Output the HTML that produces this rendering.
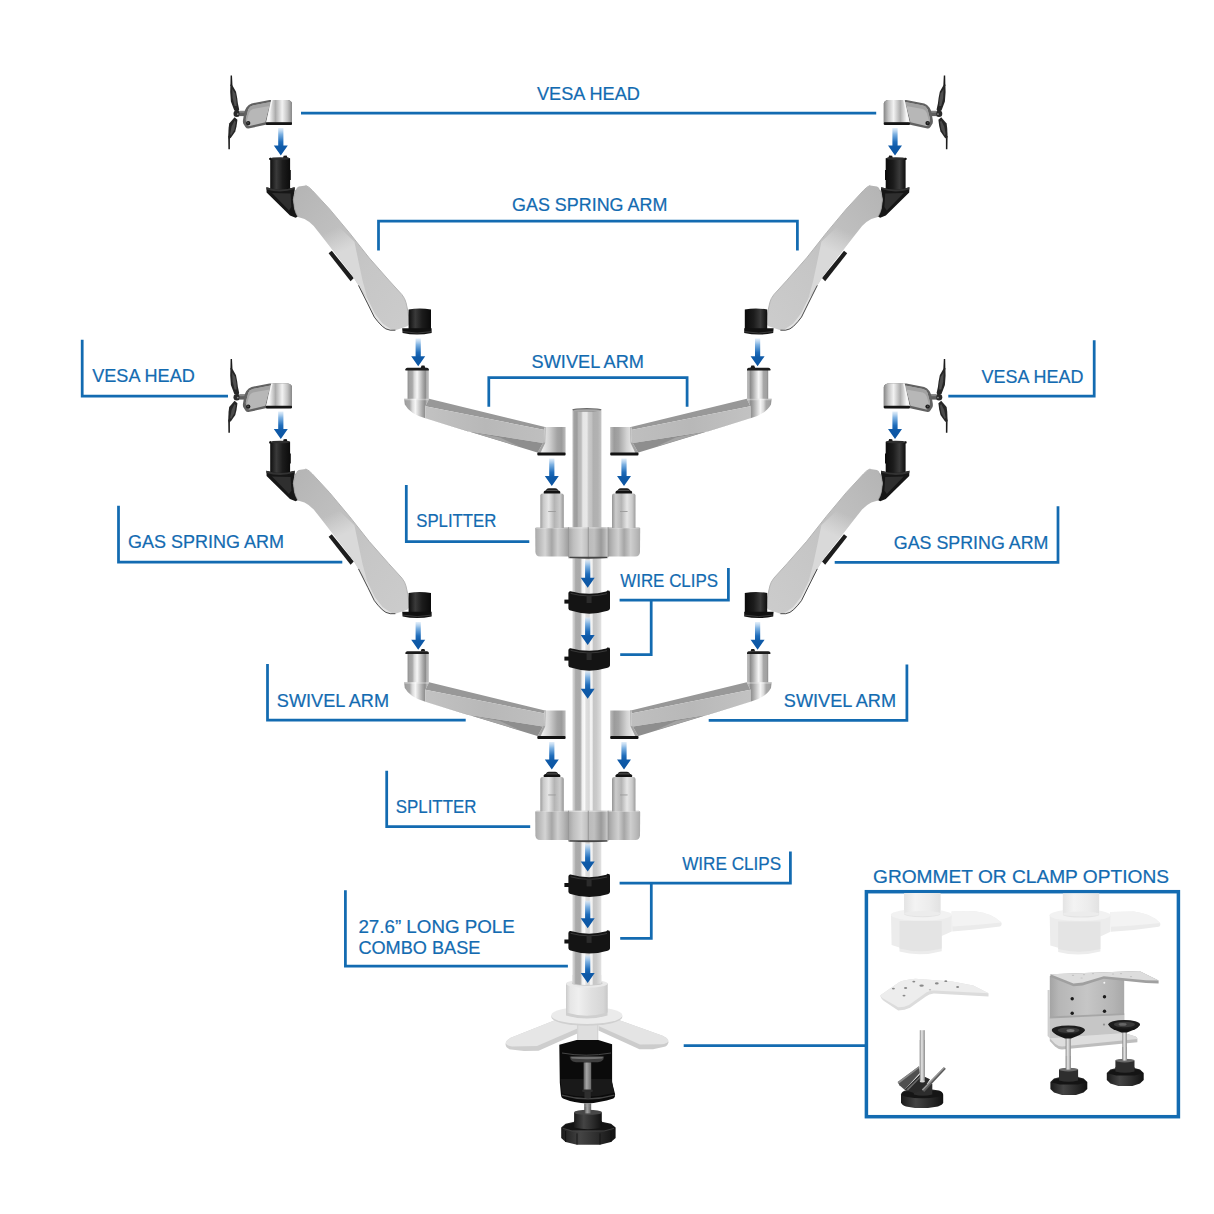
<!DOCTYPE html>
<html lang="en">
<head>
<meta charset="utf-8">
<title>Monitor mount assembly diagram</title>
<style>
html,body{margin:0;padding:0;background:#fff;}
body{width:1214px;height:1214px;overflow:hidden;}
</style>
</head>
<body>

<svg width="1214" height="1214" viewBox="0 0 1214 1214" style="display:block">

<defs>
  <linearGradient id="gArrow" x1="0" y1="0" x2="0" y2="1">
    <stop offset="0" stop-color="#d9e9f8" stop-opacity="0.75"/>
    <stop offset="0.22" stop-color="#7fb2e2"/>
    <stop offset="0.5" stop-color="#1f6dbb"/>
    <stop offset="0.68" stop-color="#0f5aa8"/>
    <stop offset="1" stop-color="#0c55a2"/>
  </linearGradient>
  <path id="arrow" d="M-2.6,0 H2.6 V17.6 H7 L0,27.6 L-7,17.6 H-2.6 Z" fill="url(#gArrow)"/>

  <linearGradient id="gPole" x1="0" y1="0" x2="1" y2="0">
    <stop offset="0" stop-color="#d6d6d6"/>
    <stop offset="0.06" stop-color="#c8c8c8"/>
    <stop offset="0.11" stop-color="#aaaaaa"/>
    <stop offset="0.27" stop-color="#a9a9a9"/>
    <stop offset="0.34" stop-color="#f0f0f0"/>
    <stop offset="0.42" stop-color="#fafafa"/>
    <stop offset="0.47" stop-color="#dedede"/>
    <stop offset="0.58" stop-color="#d8d8d8"/>
    <stop offset="0.63" stop-color="#f6f6f6"/>
    <stop offset="0.68" stop-color="#f0f0f0"/>
    <stop offset="0.73" stop-color="#c6c6c6"/>
    <stop offset="0.83" stop-color="#cacaca"/>
    <stop offset="0.93" stop-color="#d8d8d8"/>
    <stop offset="1" stop-color="#e2e2e2"/>
  </linearGradient>
  <linearGradient id="gPoleTop" x1="0" y1="0" x2="1" y2="0">
    <stop offset="0" stop-color="#d2d2d2"/>
    <stop offset="0.05" stop-color="#a2a2a2"/>
    <stop offset="0.16" stop-color="#9c9c9c"/>
    <stop offset="0.2" stop-color="#b4b4b4"/>
    <stop offset="0.3" stop-color="#bcbcbc"/>
    <stop offset="0.36" stop-color="#e6e6e6"/>
    <stop offset="0.5" stop-color="#e8e8e8"/>
    <stop offset="0.56" stop-color="#cacaca"/>
    <stop offset="0.66" stop-color="#c2c2c2"/>
    <stop offset="0.72" stop-color="#b0b0b0"/>
    <stop offset="0.88" stop-color="#b2b2b2"/>
    <stop offset="1" stop-color="#c4c4c4"/>
  </linearGradient>
  <linearGradient id="gEndCyl" x1="0" y1="0" x2="1" y2="0">
    <stop offset="0" stop-color="#d4d4d4"/>
    <stop offset="0.18" stop-color="#ececec"/>
    <stop offset="0.42" stop-color="#d2d2d2"/>
    <stop offset="0.7" stop-color="#a4a4a4"/>
    <stop offset="0.86" stop-color="#9b9b9b"/>
    <stop offset="1" stop-color="#bebebe"/>
  </linearGradient>
  <linearGradient id="gCyl" x1="0" y1="0" x2="1" y2="0">
    <stop offset="0" stop-color="#858585"/>
    <stop offset="0.06" stop-color="#a0a0a0"/>
    <stop offset="0.22" stop-color="#a8a8a8"/>
    <stop offset="0.32" stop-color="#d8d8d8"/>
    <stop offset="0.45" stop-color="#f6f6f6"/>
    <stop offset="0.58" stop-color="#d2d2d2"/>
    <stop offset="0.72" stop-color="#aaaaaa"/>
    <stop offset="0.84" stop-color="#8c8c8c"/>
    <stop offset="0.9" stop-color="#b2b2b2"/>
    <stop offset="1" stop-color="#bcbcbc"/>
  </linearGradient>
  <linearGradient id="gSock" x1="0" y1="0" x2="1" y2="0">
    <stop offset="0" stop-color="#9c9c9c"/>
    <stop offset="0.14" stop-color="#cacaca"/>
    <stop offset="0.36" stop-color="#e6e6e6"/>
    <stop offset="0.6" stop-color="#b4b4b4"/>
    <stop offset="0.84" stop-color="#cccccc"/>
    <stop offset="1" stop-color="#959595"/>
  </linearGradient>
  <linearGradient id="gLobe" x1="0" y1="0" x2="1" y2="0">
    <stop offset="0" stop-color="#aaaaaa"/>
    <stop offset="0.12" stop-color="#bababa"/>
    <stop offset="0.3" stop-color="#d4d4d4"/>
    <stop offset="0.5" stop-color="#a6a6a6"/>
    <stop offset="0.68" stop-color="#d0d0d0"/>
    <stop offset="0.85" stop-color="#b8b8b8"/>
    <stop offset="1" stop-color="#9e9e9e"/>
  </linearGradient>
  <linearGradient id="gLobe2" x1="1" y1="0" x2="0" y2="0">
    <stop offset="0" stop-color="#aaaaaa"/>
    <stop offset="0.12" stop-color="#bababa"/>
    <stop offset="0.3" stop-color="#cecece"/>
    <stop offset="0.5" stop-color="#a6a6a6"/>
    <stop offset="0.68" stop-color="#d0d0d0"/>
    <stop offset="0.85" stop-color="#b8b8b8"/>
    <stop offset="1" stop-color="#9e9e9e"/>
  </linearGradient>
  <linearGradient id="gLobeC1" x1="0" y1="0" x2="1" y2="0">
    <stop offset="0" stop-color="#a5a5a5"/>
    <stop offset="0.25" stop-color="#bebebe"/>
    <stop offset="0.65" stop-color="#d5d5d5"/>
    <stop offset="1" stop-color="#bcbcbc"/>
  </linearGradient>
  <linearGradient id="gLobeC2" x1="0" y1="0" x2="1" y2="0">
    <stop offset="0" stop-color="#bababa"/>
    <stop offset="0.3" stop-color="#c0c0c0"/>
    <stop offset="0.65" stop-color="#9a9a9a"/>
    <stop offset="0.85" stop-color="#b4b4b4"/>
    <stop offset="1" stop-color="#d2d2d2"/>
  </linearGradient>
  <linearGradient id="gLobeV" x1="0" y1="0" x2="0" y2="1">
    <stop offset="0" stop-color="#ffffff" stop-opacity="0.25"/>
    <stop offset="0.15" stop-color="#ffffff" stop-opacity="0"/>
    <stop offset="0.85" stop-color="#000000" stop-opacity="0"/>
    <stop offset="1" stop-color="#000000" stop-opacity="0.25"/>
  </linearGradient>
  <linearGradient id="gBlackCyl" x1="0" y1="0" x2="1" y2="0">
    <stop offset="0" stop-color="#0e0e0e"/>
    <stop offset="0.3" stop-color="#3a3a3a"/>
    <stop offset="0.6" stop-color="#1c1c1c"/>
    <stop offset="1" stop-color="#0a0a0a"/>
  </linearGradient>
  <linearGradient id="gHeadCyl" x1="0" y1="0" x2="1" y2="0">
    <stop offset="0" stop-color="#f2f2f2"/>
    <stop offset="0.12" stop-color="#f6f6f6"/>
    <stop offset="0.36" stop-color="#acacac"/>
    <stop offset="0.62" stop-color="#f2f2f2"/>
    <stop offset="0.82" stop-color="#c4c4c4"/>
    <stop offset="1" stop-color="#878787"/>
  </linearGradient>
  <linearGradient id="gArmFace" x1="0" y1="0" x2="1" y2="1">
    <stop offset="0" stop-color="#b4b4b4"/>
    <stop offset="0.3" stop-color="#bebebe"/>
    <stop offset="0.6" stop-color="#c6c6c6"/>
    <stop offset="1" stop-color="#cccccc"/>
  </linearGradient>
  <linearGradient id="gFacet" gradientUnits="userSpaceOnUse" x1="336" y1="228" x2="346" y2="250">
    <stop offset="0" stop-color="#d9d9d9" stop-opacity="0"/>
    <stop offset="1" stop-color="#d9d9d9" stop-opacity="1"/>
  </linearGradient>
  <linearGradient id="gSwFace" x1="0" y1="0" x2="1" y2="0">
    <stop offset="0" stop-color="#c2c2c2"/>
    <stop offset="0.5" stop-color="#b8b8b8"/>
    <stop offset="1" stop-color="#bfbfbf"/>
  </linearGradient>
  <linearGradient id="gCollar" x1="0" y1="0" x2="1" y2="0">
    <stop offset="0" stop-color="#cacaca"/>
    <stop offset="0.1" stop-color="#e6e6e6"/>
    <stop offset="0.3" stop-color="#efefef"/>
    <stop offset="0.6" stop-color="#e0e0e0"/>
    <stop offset="0.9" stop-color="#d6d6d6"/>
    <stop offset="1" stop-color="#c8c8c8"/>
  </linearGradient>
  <linearGradient id="gCollarL" x1="0" y1="0" x2="1" y2="0">
    <stop offset="0" stop-color="#e4e4e4"/>
    <stop offset="0.3" stop-color="#f3f3f3"/>
    <stop offset="0.7" stop-color="#ececec"/>
    <stop offset="1" stop-color="#e2e2e2"/>
  </linearGradient>
  <linearGradient id="gKnob" x1="0" y1="0" x2="1" y2="0">
    <stop offset="0" stop-color="#1a1a1a"/>
    <stop offset="0.35" stop-color="#444"/>
    <stop offset="0.7" stop-color="#2a2a2a"/>
    <stop offset="1" stop-color="#111"/>
  </linearGradient>
  <linearGradient id="gScrew" x1="0" y1="0" x2="1" y2="0">
    <stop offset="0" stop-color="#8a8a8a"/>
    <stop offset="0.4" stop-color="#e8e8e8"/>
    <stop offset="1" stop-color="#8f8f8f"/>
  </linearGradient>
  <linearGradient id="gScrewD" x1="0" y1="0" x2="1" y2="0">
    <stop offset="0" stop-color="#5e5e5e"/>
    <stop offset="0.4" stop-color="#a6a6a6"/>
    <stop offset="1" stop-color="#6a6a6a"/>
  </linearGradient>
  <linearGradient id="gClampBody" x1="0" y1="0" x2="1" y2="0">
    <stop offset="0" stop-color="#a4a4a4"/>
    <stop offset="0.12" stop-color="#b6b6b6"/>
    <stop offset="0.5" stop-color="#c6c6c6"/>
    <stop offset="0.85" stop-color="#b4b4b4"/>
    <stop offset="1" stop-color="#a8a8a8"/>
  </linearGradient>
</defs>

<defs>

<g id="vesa">
  <!-- plate -->
  <path d="M230.6,75.4 L232,75.4 L232.5,86 L230.4,86 Z M228.2,136 L229.9,137 L229.9,149.2 L228.4,149.2 Z" fill="#1b1b1b"/>
  <!-- wings -->
  <path d="M230.4,84.5 L232.5,85.6 L236,91.7 L237.2,98 L237.9,103.6 L239.2,109.4 L238,112 L234.3,110.5 L230.9,101.5 L230.2,92 Z" fill="#262626"/>
  <path d="M232.2,89 L235.2,93.4 L236.4,100 L236.6,106 L234.6,106 L232.6,98 Z" fill="#505050"/>
  <path d="M234.6,117.2 L237.4,119.8 L236.6,126 L235.3,131.6 L231.1,137.4 L229,139.2 L228.2,136.5 L228.6,128 L229.2,123.6 Z" fill="#262626"/>
  <path d="M234.6,120.6 L235.8,122 L234.4,129.6 L231,135.4 L230.2,134 L231.6,126.5 Z" fill="#4c4c4c"/>
  <circle cx="236.8" cy="113.7" r="3.3" fill="#2a2a2a"/>
  <circle cx="237.8" cy="114.1" r="0.9" fill="#8a8a8a"/>
  <rect x="239.4" y="110.9" width="7" height="5.2" fill="#5e5e5e"/>
  <rect x="239.4" y="110.9" width="7" height="1.8" fill="#858585"/>
  <!-- head frame -->
  <path d="M246.4,107.4 Q248.5,104.3 251.6,103.4 L269.5,100 L288,100 Q291.6,100.6 292,103.5 L292,124.6 L265.8,124.7 L248.4,128.6 Q246.6,128.8 245.4,127 L243.2,123.4 Q242.7,122 243,120 L244.3,112.5 Q245,109.5 246.4,107.4 Z" fill="#626262"/>
  <!-- inner panel -->
  <path d="M248.3,109.3 Q249.8,106.2 252.8,105.5 L270.6,102 L265.4,122.3 L249.6,126 Q247.9,126.2 247.2,124.6 L246,121 Q245.7,119.6 246,118 Z" fill="#b7b7b7"/>
  <path d="M248.3,109.3 Q249.8,106.2 252.8,105.5 L270.6,102 L269.6,106 L253,109 Q250,110 249,113 L246.6,121.5 L246,121 Q245.7,119.6 246,118 Z" fill="#a2a2a2"/>
  <!-- cylinder part -->
  <path d="M271.2,100 L288,100 Q291.6,100.6 292,103.5 L292,122.4 L266.2,122.4 Z" fill="url(#gHeadCyl)"/>
  <path d="M271.2,100 L272.6,100 L267.8,122.4 L266.2,122.4 Z" fill="#f6f6f6"/>
  <rect x="265.9" y="122.2" width="26.1" height="2.7" rx="0.8" fill="#141414"/>
  <circle cx="248.2" cy="123.1" r="2.2" fill="#1c1c1c"/>
  <circle cx="248" cy="122.9" r="0.8" fill="#555"/>
</g>

<g id="gasarm">
  <!-- top black cylinder -->
  <path d="M270.2,158.8 L283,157.9 L283.6,155.8 L286.6,155.6 L287.4,157.6 L290.1,158.2 L290.1,170 L290.8,170 L290.8,180 L290.1,180 L290.1,190.4 L270.2,190.4 Z" fill="url(#gBlackCyl)"/>
  <ellipse cx="280.1" cy="158.5" rx="9.9" ry="1.3" fill="#2e2e2e"/><path d="M269,158.2 L271,157.6 L271,160 L269.4,160 Z" fill="#111"/>
  <!-- flange + joint -->
  <path d="M266.4,187.2 Q280.5,191.6 294.6,187.2 L294.8,189.4 L293.4,199.8 L294.7,209 L297.9,216.6 L295.6,217.8 L290,215.4 L266.6,192.4 Z" fill="#161616"/>
  <path d="M266.4,187.2 Q280.5,191.6 294.6,187.2 L294.7,189 Q280.5,193.6 266.5,189.4 Z" fill="#333"/>
  <path d="M272,193 L290.6,193.6 L291.4,207 L289,210.4 Z" fill="#2f2f2f"/>
  <!-- strip under arm -->
  <path d="M328.6,253.3 L331.8,250.8 L353.8,278 L350.6,281.2 Z" fill="#1d1d1d"/>
  <!-- silver arm -->
  <path id="armshape" d="M295.9,189.9 Q296.6,187.4 298.8,186.6 L305.6,185.4 Q309,186.6 312.4,190.5 L329.5,209 L349.3,232.7 L369.1,257.8 L388.8,280.2 L402,294.7 Q405,298.5 406,302.6 L408,311.8 L409.4,322.3 Q409.3,325 407.3,326.3 L395.4,330.2 L390.2,330.2 Q385.5,329.5 382.3,326.3 Q377.5,321.6 374.3,317.1 L367.8,303.9 L358.5,285.4 Q353.5,277 348,269.6 L329.5,245.9 L313.7,226.1 Q309.5,221.3 304.5,218.9 L297.9,216.9 Q295.5,213 294.6,209 L293.3,199.8 Q294,194 295.9,189.9 Z" fill="url(#gArmFace)"/>
  <!-- lighter facet -->
  <path d="M354.4,241.8 L358.6,262 L362.6,280.7 L367.4,298.6 L358.5,285.4 Q353.5,277 348,269.6 L329.5,245.9 L318,231.4 L338,226 Z" fill="url(#gFacet)"/>
  <path d="M367.4,298.6 L374.8,313.4 L382.6,323.4 L390.6,329 L395.4,330.2 L390.2,330.2 Q385.5,329.5 382.3,326.3 Q377.5,321.6 374.3,317.1 L367.8,303.9 L362,292 Z" fill="#e2e2e2"/>
  <path d="M305.6,185.4 Q309,186.6 312.4,190.5 L329.5,209 L349.3,232.7 L369.1,257.8 L388.8,280.2 L402,294.7 Q405,298.5 406,302.6 L408,311.8 L409.4,322.3" fill="none" stroke="#b4b4b4" stroke-width="1"/>
  <!-- dark lower edge -->
  <path d="M358.5,285.4 L367.8,303.9 L374.3,317.1 Q377.5,321.6 382.3,326.3 Q385.5,329.5 390.2,330.2 L395.4,330.2" fill="none" stroke="#3a3a3a" stroke-width="0.9"/>
  <path d="M295.9,189.9 Q294,194 293.3,199.8 L294.6,209 Q295.5,213 297.9,216.9" fill="none" stroke="#9a9a9a" stroke-width="0.8"/>
  <!-- bottom black cylinder -->
  <path d="M408.6,309.6 Q419.8,307.2 431,309.6 L431,329.4 L408.6,329.4 Z" fill="url(#gBlackCyl)"/>
  <path d="M402.2,328.2 L431.6,328.2 L431.6,333 Q417,336.2 402.6,333 Z" fill="#111"/>
  <path d="M403,331.6 Q417,334.6 431.4,331.6" fill="none" stroke="#555" stroke-width="0.6"/>
</g>

<g id="swivel">
  <!-- post -->
  <path d="M420.6,368 L421.6,365.6 L424.4,365.4 L425.4,368 Z" fill="#1a1a1a"/>
  <rect x="407.6" y="369" width="21.2" height="30.4" fill="url(#gCyl)"/>
  <path d="M405.4,369.2 Q405.6,367.8 407.4,367.7 L427,367.7 Q428.6,367.8 428.8,369.2 L428.8,370.4 L405.4,370.4 Z" fill="#1c1c1c"/>
  <!-- base below post -->
  <path d="M404.2,398.7 L429.1,398.7 L425.4,406.2 L425.4,418.2 Q410,414 404.8,404.4 Z" fill="url(#gCyl)"/>
  <path d="M404.2,398.7 L429.1,398.7 L428.4,400.2 L404.3,400.2 Z" fill="#fff" opacity="0.35"/>
  <!-- arm: top facet -->
  <path d="M429.1,398.7 L546,427.2 L546,430.2 L425.4,406.2 Z" fill="#989898"/>
  <!-- main face -->
  <path d="M425.4,406.2 L546,430.2 L546,443.4 L467.7,431.2 L425.4,418.2 Z" fill="url(#gSwFace)"/>
  <!-- bottom facet -->
  <path d="M425.4,418.2 L467.7,431.2 L546,443.4 L541,452.8 L537.3,452.4 Z" fill="#8e8e8e"/>
  <path d="M425.4,418.2 L467.7,431.2 L500,437.6 L520,446.8 Z" fill="#a4a4a4"/>
  <!-- end cylinder -->
  <path d="M544.4,426.9 L565.6,426.9 L565.6,453 L537.3,453 L543.3,442.5 Z" fill="url(#gEndCyl)"/>
  <path d="M544.4,426.9 L545.6,426.9 L545.2,443 L540.4,453 L537.3,453 L543.3,442.5 Z" fill="#a2a2a2"/>
  <path d="M544.6,428 L544.2,442.6" stroke="#d4d4d4" stroke-width="0.8" fill="none"/>
  <rect x="537.3" y="452.4" width="28.3" height="3.2" rx="1" fill="#121212"/>
</g>

<g id="socket">
  <path d="M545.6,491.6 Q545.8,488.6 549,488.3 L555,488.3 Q558.2,488.6 558.4,491.6 Z" fill="#1c1c1c"/>
  <path d="M543.7,494.8 L543.7,492 Q544,490.6 545.6,490.5 L558.4,490.5 Q560,490.6 560.3,492 L560.3,494.8 Z" fill="#121212"/>
  <rect x="546.4" y="489.9" width="11.2" height="1" fill="#555"/>
  <path d="M540.3,495.6 Q540.5,493.8 542.4,493.6 L561.6,493.6 Q563.6,493.8 563.8,495.6 L563.8,528 L540.3,528 Z" fill="url(#gSock)"/>
  <rect x="548.2" y="511" width="7.6" height="0.9" fill="#9a9a9a"/>
</g>

<g id="splitter">
  <path d="M535.2,528.6 Q535.3,527.3 536.6,527.2 L568.4,527.2 L568.4,556.6 L540,556.6 Q535.6,556.2 535.4,552 Z" fill="url(#gLobe)"/>
  <path d="M640.2,528.6 Q640.1,527.3 638.8,527.2 L608,527.2 L608,556.6 L635.4,556.6 Q639.8,556.2 640,552 Z" fill="url(#gLobe2)"/>
  <rect x="568.4" y="527.2" width="19.8" height="31.2" fill="url(#gLobeC1)"/>
  <rect x="588.2" y="527.2" width="19.8" height="31.2" fill="url(#gLobeC2)"/>
  <path d="M536,527.2 H639.4 V528.6 H536 Z" fill="#fff" opacity="0.35"/>
  <rect x="568" y="527.2" width="0.9" height="30" fill="#959595"/><rect x="587.8" y="527.2" width="0.9" height="31" fill="#8f8f8f"/><rect x="607.6" y="527.2" width="0.9" height="30" fill="#959595"/>
  <path d="M569.4,556.8 H607.2 V558 Q588.2,559.6 569.4,558 Z" fill="#454545"/>
</g>

<g id="clip">
  <rect x="564.4" y="599.6" width="5" height="4" fill="#111"/>
  <path d="M568.4,593 Q568.6,591 570.6,591.2 Q589,596.4 606.4,591.4 L607.2,590.4 L609.6,590.8 Q610.2,592 610,594 L610,608.6 Q609.6,610.4 607.6,610.8 Q589,616.6 570.6,610.6 Q568.6,610.2 568.4,608.4 Z" fill="#141414"/>
  <path d="M570.6,593.4 Q589,598.4 607,593.6" fill="none" stroke="#3c3c3c" stroke-width="0.9"/>
  <path d="M586.6,595.5 L591.6,595.5 L591.6,603 L586.6,603 Z" fill="#2b2b2b"/>
</g>


<g id="unit">
  <use href="#vesa"/>
  <use href="#arrow" x="280.8" y="128"/>
  <use href="#gasarm"/>
  <use href="#arrow" x="418.2" y="338.6"/>
  <use href="#swivel"/>
  <use href="#arrow" x="551.8" y="458.4"/>
  <use href="#socket"/>
</g>

</defs>
<rect width="1214" height="1214" fill="#fff"/>
<path d="M301,113.1 H876.2" fill="none" stroke="#136bb1" stroke-width="2.75" stroke-linejoin="miter"/>
<path d="M378.5,250.4 V221.2 H797.4 V250.4" fill="none" stroke="#136bb1" stroke-width="2.75" stroke-linejoin="miter"/>
<path d="M488.8,406.7 V377.7 H687.1 V406.7" fill="none" stroke="#136bb1" stroke-width="2.75" stroke-linejoin="miter"/>
<path d="M82.2,339.8 V396 H228" fill="none" stroke="#136bb1" stroke-width="2.75" stroke-linejoin="miter"/>
<path d="M1094.2,340.2 V396.2 H948.3" fill="none" stroke="#136bb1" stroke-width="2.75" stroke-linejoin="miter"/>
<path d="M118.5,505.8 V562 H342.3" fill="none" stroke="#136bb1" stroke-width="2.75" stroke-linejoin="miter"/>
<path d="M1058,506.2 V562.3 H834.7" fill="none" stroke="#136bb1" stroke-width="2.75" stroke-linejoin="miter"/>
<path d="M406.3,485 V541.5 H529.3" fill="none" stroke="#136bb1" stroke-width="2.75" stroke-linejoin="miter"/>
<path d="M386.7,770.8 V826.6 H530.2" fill="none" stroke="#136bb1" stroke-width="2.75" stroke-linejoin="miter"/>
<path d="M267.5,664 V720 H465.7" fill="none" stroke="#136bb1" stroke-width="2.75" stroke-linejoin="miter"/>
<path d="M906.9,664.4 V720.4 H708.7" fill="none" stroke="#136bb1" stroke-width="2.75" stroke-linejoin="miter"/>
<path d="M728.4,568 V600 H619.6" fill="none" stroke="#136bb1" stroke-width="2.75" stroke-linejoin="miter"/>
<path d="M651.2,600 V654.6 H620.2" fill="none" stroke="#136bb1" stroke-width="2.75" stroke-linejoin="miter"/>
<path d="M790.4,851.4 V883 H619.6" fill="none" stroke="#136bb1" stroke-width="2.75" stroke-linejoin="miter"/>
<path d="M651.3,883 V938.3 H620.2" fill="none" stroke="#136bb1" stroke-width="2.75" stroke-linejoin="miter"/>
<path d="M345.4,890.3 V966 H567.9" fill="none" stroke="#136bb1" stroke-width="2.75" stroke-linejoin="miter"/>
<path d="M683.7,1045.6 H866" fill="none" stroke="#136bb1" stroke-width="2.75" stroke-linejoin="miter"/>
<rect x="866.4" y="891.7" width="312" height="225" fill="#fff" stroke="#136bb1" stroke-width="3.5"/>

<g id="opts">
  <!-- top-left base -->
  <g id="wbase">
    <rect x="904.2" y="893.2" width="36.2" height="21" fill="url(#gCollarL)"/>
    <path d="M951.6,911.6 L975,911.2 Q992,913 1001.4,922.6 Q1002.4,925.4 1000,926.4 L975,929.6 L952.3,931.4 Z" fill="#ebebeb"/>
    <path d="M951.6,911.6 L975,911.2 Q992,913 1001.4,922.6 L975,925 L952.3,926.4 Z" fill="#f3f3f3"/>
    <path d="M891,914.8 L891.6,945 L899.5,947.4 L899.5,951.6 Q920,957 941.7,951.2 L941.7,936 L951.8,931.4 L951.8,914.8 Z" fill="#ececec"/>
    <path d="M899.5,921 L941.7,921 L941.7,948.6 Q920,954 899.5,948.6 Z" fill="#e4e4e4"/>
    <ellipse cx="921.3" cy="914.8" rx="30.4" ry="5.8" fill="#f2f2f2"/>
    <ellipse cx="922.3" cy="914" rx="18.1" ry="3.2" fill="#e3e3e3"/>
    <rect x="904.2" y="893.2" width="36.2" height="20.6" fill="url(#gCollarL)"/>
    <ellipse cx="922.3" cy="913.6" rx="18.1" ry="2.6" fill="#ececec"/>
  </g>
  <use href="#wbase" x="158.7" y="0.4"/>
  <!-- plate -->
  <path d="M880.4,995.3 L899.5,982.1 Q906,979.4 915.4,978.8 L952.3,981.5 L973.3,985.4 L988.5,993.3 L988.5,996.6 L933.8,993.6 Q929,994 925.9,996.4 L910,1007.8 Q905,1010.4 898.2,1010.5 L884,1001 Q880.2,998 880.4,995.3 Z" fill="#dcdcdc"/>
  <path d="M880.4,995.3 L899.5,982.1 Q906,979.4 915.4,978.8 L952.3,981.5 L973.3,985.4 L988.5,993.3 L933.8,990.6 Q928,991 924.9,993.6 L909,1005 Q904,1007.4 898.2,1007.2 L884,999 Q880.2,997 880.4,995.3 Z" fill="#ededed"/>
  <g fill="#8a8a8a">
    <ellipse cx="913.8" cy="981.6" rx="1.5" ry="0.9"/><ellipse cx="945.8" cy="981.2" rx="1.5" ry="0.9"/>
    <ellipse cx="936.8" cy="983.4" rx="1.9" ry="1.1"/><ellipse cx="921.6" cy="985.6" rx="2.2" ry="1.2"/>
    <ellipse cx="905.6" cy="988" rx="1.6" ry="1"/><ellipse cx="893.4" cy="988.6" rx="1.5" ry="0.9"/>
    <ellipse cx="957.6" cy="987" rx="1.5" ry="0.9"/><ellipse cx="904" cy="995.6" rx="1.5" ry="0.9"/>
    <ellipse cx="930" cy="989.8" rx="1.2" ry="0.7" fill="#bbb"/>
  </g>
  <!-- grommet bolt -->
  <rect x="919.8" y="1030.2" width="5" height="46" fill="url(#gScrew)"/>
  <!-- knob -->
  <path d="M901,1094.6 Q901.4,1091.4 906,1090.2 L914,1089.4 L932,1089.4 L939,1090.6 Q943,1092 943.2,1094.8 L943.2,1102.6 Q942.6,1105.2 938,1106.4 L928,1108 L915,1108 L906,1106.4 Q901.6,1105 901,1102.2 Z" fill="url(#gKnob)"/>
  <ellipse cx="922.1" cy="1094.2" rx="20.4" ry="4" fill="#151515"/>
  <path d="M913.8,1084 L932.3,1084 L932.3,1094.6 Q923,1097 913.8,1094.6 Z" fill="#2d2d2d"/>
  <!-- channel: left wall, floor, right wall -->
  <path d="M897.7,1082.1 L919,1066.2 L919.8,1072.9 L904.6,1089.8 L899.4,1085.2 Z" fill="#505050"/>
  <path d="M897.7,1082.1 L919,1066.2 L919.4,1067.8 L898.6,1083.8 Z" fill="#8c8c8c"/>
  <path d="M904.6,1089.8 L919.8,1074.6 L930,1079.2 L922.5,1090.2 L913.8,1093 Z" fill="#2a2a2a"/>
  <path d="M906.4,1089.6 L919.8,1076.4 L921,1077 L908,1090.6 Z" fill="#6a6a6a"/>
  <path d="M921.9,1089.6 L943.8,1067.3 L945.9,1068.8 L924.2,1092.1 Z" fill="#5a5a5a"/>
  <path d="M921.9,1089.6 L943.8,1067.3 L944.8,1068 L922.9,1090.5 Z" fill="#9a9a9a"/>
  <rect x="919.8" y="1040" width="5" height="41.6" fill="url(#gScrew)"/>
  <ellipse cx="922.3" cy="1081.6" rx="2.5" ry="1" fill="#d8d8d8"/>
  <!-- C clamp (right) -->
  <path d="M1049.8,976 L1124.2,976 L1124.2,1033 L1049.8,1038.2 Z" fill="url(#gClampBody)"/>
  <path d="M1047.6,990 L1049.8,990 L1049.8,1038 L1047.6,1036 Z" fill="#cfcfcf"/>
  <path d="M1049.8,1018 L1124.2,1014.6 L1124.2,1033 L1049.8,1038.2 Z" fill="#c6c6c6"/>
  <path d="M1049.8,1016.6 L1124.2,1013.2 L1124.2,1015 L1049.8,1018.4 Z" fill="#a6a6a6"/>
  <g fill="#1b1b1b"><circle cx="1072.2" cy="998.8" r="1.7"/><circle cx="1104.5" cy="996.8" r="1.7"/><circle cx="1072.2" cy="1013.2" r="1.7"/><circle cx="1104.5" cy="1011.2" r="1.7"/></g>
  <circle cx="1104" cy="1024.6" r="1.1" fill="#8e8e8e"/>
  <!-- top plate -->
  <path d="M1050.4,974.2 L1139.4,970.9 L1158.6,980.6 L1158.6,983.6 L1146,983 L1103.8,978.8 L1082.7,985.6 L1073.5,986.3 L1050.4,977 Z" fill="#a0a0a0"/>
  <path d="M1050.4,974.2 L1139.4,970.9 L1158.6,980.6 L1146,980.2 L1103.8,976.2 L1082.7,982.6 L1073.5,983.4 Z" fill="#dddddd"/>
  <circle cx="1104.3" cy="982.8" r="1" fill="#f5f5f5"/>
  <g fill="#c2c2c2"><ellipse cx="1073" cy="975.4" rx="1.2" ry="0.6"/><ellipse cx="1084" cy="974.6" rx="1.2" ry="0.6"/><ellipse cx="1093" cy="973.6" rx="1.2" ry="0.6"/><ellipse cx="1081.6" cy="978" rx="1.2" ry="0.6"/><ellipse cx="1113" cy="974" rx="1.2" ry="0.6"/><ellipse cx="1121" cy="973.6" rx="1.2" ry="0.6"/><ellipse cx="1131" cy="976.6" rx="1.2" ry="0.6"/></g>
  <!-- lower plate -->
  <path d="M1049.8,1038.2 L1124.2,1033 L1135.6,1036.6 Q1137.4,1037.4 1137.4,1039 L1137.4,1042.2 L1062,1049.6 Q1058,1049.4 1055,1046.6 L1049.8,1041 Z" fill="#bdbdbd"/>
  <path d="M1049.8,1038.2 L1124.2,1033 L1135.6,1036.6 Q1137.4,1037.4 1137.4,1039 L1062,1046.6 Q1058,1046.4 1055,1043.8 Z" fill="#dedede"/>
  <!-- screws -->
  <rect x="1065.6" y="1036" width="5.3" height="36" fill="url(#gScrew)"/>
  <rect x="1122.3" y="1030" width="4.6" height="33" fill="url(#gScrew)"/>
  <!-- pads -->
  <path d="M1051.8,1030 Q1068.2,1022 1084.8,1030 Q1084,1033.4 1076,1036.6 L1071,1038.6 L1065,1038.6 L1060,1036.6 Q1052.6,1033.4 1051.8,1030 Z" fill="#151515"/>
  <ellipse cx="1068.3" cy="1030" rx="16.5" ry="4.6" fill="#1d1d1d"/>
  <ellipse cx="1068.6" cy="1030.2" rx="11" ry="2.8" fill="#3a3a3a"/>
  <ellipse cx="1070.5" cy="1030.6" rx="4" ry="1.5" fill="#777"/>
  <path d="M1108.4,1024.4 Q1124.2,1016.6 1140,1024.4 Q1139.2,1027.6 1132,1030.6 L1127,1032.4 L1121.4,1032.4 L1116.4,1030.6 Q1109.2,1027.6 1108.4,1024.4 Z" fill="#151515"/>
  <ellipse cx="1124.2" cy="1024.3" rx="15.8" ry="4.4" fill="#1d1d1d"/>
  <ellipse cx="1124.4" cy="1024.5" rx="10.6" ry="2.7" fill="#3a3a3a"/>
  <ellipse cx="1122.6" cy="1024.4" rx="4" ry="1.4" fill="#666"/>
  <!-- knobs -->
  <g id="cknob">
    <path d="M1059,1069.6 Q1068.5,1066.4 1078.1,1069.6 L1078.1,1080 L1059,1080 Z" fill="#2e2e2e"/>
    <ellipse cx="1068.5" cy="1069.6" rx="9.5" ry="1.8" fill="#6a6a6a"/>
    <path d="M1050.4,1082 L1054,1078.6 L1062,1076.6 L1076,1076.6 L1083.6,1078.6 L1087.3,1082 L1087.3,1089 L1083.6,1092.4 L1076,1095 L1062,1095 L1054,1092.4 L1050.4,1089 Z" fill="url(#gKnob)"/>
    <path d="M1054,1079.6 L1062,1077.6 L1076,1077.6 L1083.6,1079.6 L1086,1082.4 L1078,1084.6 L1060,1084.6 L1051.8,1082.4 Z" fill="#141414"/>
    <path d="M1059,1076 L1078.1,1076 L1078.1,1080.6 Q1068.5,1083 1059,1080.6 Z" fill="#2e2e2e"/>
  </g>
  <use href="#cknob" x="56.4" y="-9"/>
  <rect x="1065.9" y="1056" width="4.8" height="13.6" fill="url(#gScrew)"/>
  <rect x="1122.5" y="1047" width="4.4" height="13.6" fill="url(#gScrew)"/>
</g>


<g id="clamp">
  <!-- C body -->
  <path d="M559.3,1044.8 L576.6,1039.9 L598.3,1039.9 L612.1,1044.3 L612.1,1082.4 L615.1,1094.2 Q615.4,1097.4 613.4,1098.6 Q600,1102.8 587.4,1103.6 Q574,1103.2 563,1098.6 Q561.2,1097.6 561,1095.6 L559.8,1082.4 Z" fill="#0b0b0b"/>
  <!-- inner lower half slightly lighter -->
  <path d="M560.4,1079 L611.6,1079 L614,1093 Q588,1100 562,1093.6 Z" fill="#191919"/>
  <path d="M562,1053 Q586,1057.4 611,1053" fill="none" stroke="#4c4c4c" stroke-width="0.9"/>
  <!-- pressure plate -->
  <path d="M569.6,1056.4 L604.2,1056.4 L603.2,1059.8 Q601.6,1062 598,1062.2 L576,1062.2 Q572.2,1062 570.8,1059.8 Z" fill="#3e3e3e"/>
  <path d="M571,1056.8 L603,1056.8 L602.4,1058.4 Q587,1060 571.6,1058.4 Z" fill="#707070"/>
  <rect x="583.6" y="1062.4" width="7.6" height="29" fill="url(#gScrewD)"/>
  <rect x="582.2" y="1089.4" width="10.6" height="2.6" rx="1" fill="#2c2c2c"/>
  <path d="M561.6,1095.2 Q588,1102.6 614.6,1095.2" fill="none" stroke="#454545" stroke-width="1.2"/>
  <rect x="584.4" y="1092" width="6.4" height="6" fill="#2e2e2e"/>
  <!-- lower screw + knob -->
  <rect x="584.2" y="1103.4" width="7" height="12" fill="url(#gScrewD)"/>
  <path d="M574.1,1112.6 Q588,1108.2 601.8,1112.6 L601.8,1129 L574.1,1129 Z" fill="url(#gKnob)"/>
  <ellipse cx="588" cy="1112.4" rx="13.8" ry="2.7" fill="#484848"/>
  <rect x="584.8" y="1107" width="5.8" height="6.4" fill="url(#gScrewD)"/>
  <path d="M561.2,1127.6 L565.6,1123.8 L574.1,1121.8 L601.8,1121.8 L611,1123.8 L615.6,1127.6 L615.6,1138 L611,1142 L600,1144.7 L577,1144.7 L565.6,1142 L561.2,1138 Z" fill="url(#gKnob)"/>
  <path d="M565.6,1124.6 L574.1,1122.6 L601.8,1122.6 L611,1124.6 L614,1127.8 L604,1130.4 L572,1130.4 L562.8,1127.8 Z" fill="#141414"/>
  <path d="M574.1,1121 L601.8,1121 L601.8,1127.6 Q588,1131 574.1,1127.6 Z" fill="url(#gKnob)"/>
  <path d="M565.6,1131 V1142 M577,1133.4 V1144.6 M600,1133.4 V1144.6 M611,1131 V1142" stroke="#0c0c0c" stroke-width="0.8" fill="none"/>
  <path d="M562.8,1128.4 L572,1131 L604,1131 L614,1128.4" stroke="#4a4a4a" stroke-width="0.7" fill="none"/>
</g>


<rect x="572.5" y="409" width="28.8" height="578" fill="url(#gPole)"/>
<rect x="572.5" y="409" width="28.8" height="120" fill="url(#gPoleTop)"/>
<ellipse cx="586.9" cy="409.7" rx="14.4" ry="1.7" fill="#6a6a6a"/>
<ellipse cx="586.9" cy="410.4" rx="13.2" ry="1.1" fill="#a9a9a9"/>


<g id="base">
  <!-- legs (side edge then top surface) -->
  <path d="M559.3,1018.6 L512,1037.2 Q505.4,1040.4 505.6,1044.6 Q506,1048.6 511,1049.6 L524,1051 L538.6,1050.8 L577.4,1033.6 L577.4,1022 Z" fill="#cecece"/>
  <path d="M559.3,1018.6 L512,1037.2 Q505.4,1040.4 505.6,1043.6 Q507,1046 512,1046.4 L537,1046 L577.4,1028.6 L577.4,1022 Z" fill="#e6e6e6"/>
  <path d="M614.6,1018.6 L662.6,1035.8 Q668.6,1038.6 668.4,1042.2 Q668,1046 663.4,1047 L653,1049.2 L639.4,1049.3 L598.4,1030.4 L598.4,1022 Z" fill="#cccccc"/>
  <path d="M614.6,1018.6 L662.6,1035.8 Q668.6,1038.6 668.4,1041.2 Q666.6,1043.8 662,1044.2 L640,1044.6 L598.4,1026 L598.4,1022 Z" fill="#e4e4e4"/>
  <!-- center block -->
  <rect x="577.2" y="1022" width="21" height="18" fill="#dedede"/>
  <rect x="577.2" y="1022" width="1" height="18" fill="#d2d2d2"/><rect x="597.2" y="1022" width="1" height="18" fill="#d2d2d2"/>
  <!-- flange ellipse -->
  <ellipse cx="586.8" cy="1016.8" rx="35.6" ry="9" fill="#d0d0d0"/>
  <ellipse cx="586.8" cy="1015.4" rx="35.6" ry="8.6" fill="#ebebeb"/>
  <!-- collar -->
  <path d="M566,983.6 L607.5,983.6 L607.5,1015.4 Q586.8,1021.6 566,1015.4 Z" fill="#cfcfcf"/>
  <path d="M566,983.6 L607.5,983.6 L607.5,1012.6 Q586.8,1018.8 566,1012.6 Z" fill="url(#gCollar)"/>
  <ellipse cx="586.75" cy="983.7" rx="20.75" ry="4.1" fill="#e9e9e9"/>
  <ellipse cx="587.2" cy="983.2" rx="15.4" ry="2.6" fill="#c9c9c9"/>
  <rect x="572.5" y="975" width="28.8" height="8.4" fill="url(#gPole)"/>
  <path d="M572.5,983.2 Q587,987 601.3,983.2 L601.3,981 L572.5,981 Z" fill="url(#gPole)"/>
</g>

<use href="#splitter"/>
<use href="#splitter" y="283.5"/>
<use href="#clip" y="0"/>
<use href="#clip" y="57.0"/>
<use href="#clip" y="283.4"/>
<use href="#clip" y="339.9"/>
<use href="#arrow" x="587.7" y="560.2"/>
<use href="#arrow" x="587.7" y="617.5"/>
<use href="#arrow" x="587.7" y="671.2"/>
<use href="#arrow" x="587.7" y="844.0"/>
<use href="#arrow" x="587.7" y="900.7"/>
<use href="#arrow" x="587.7" y="955.4"/>
<use href="#unit"/>
<use href="#unit" transform="translate(1175.8,0) scale(-1,1)"/>
<use href="#unit" transform="translate(0,283.5)"/>
<use href="#unit" transform="translate(1175.8,283.5) scale(-1,1)"/>
<g font-family="'Liberation Sans', Arial, sans-serif" font-size="17.6" fill="#136bb1" stroke="#136bb1" stroke-width="0.2">
<text x="537.0" y="99.5" textLength="102.9" lengthAdjust="spacingAndGlyphs">VESA HEAD</text>
<text x="512.0" y="211.4" textLength="155.4" lengthAdjust="spacingAndGlyphs">GAS SPRING ARM</text>
<text x="531.6" y="368" textLength="112.4" lengthAdjust="spacingAndGlyphs">SWIVEL ARM</text>
<text x="92.2" y="382.4" textLength="102.6" lengthAdjust="spacingAndGlyphs">VESA HEAD</text>
<text x="981.6" y="382.8" textLength="101.8" lengthAdjust="spacingAndGlyphs">VESA HEAD</text>
<text x="416.2" y="527.4" textLength="80.2" lengthAdjust="spacingAndGlyphs">SPLITTER</text>
<text x="128.0" y="548.2" textLength="155.9" lengthAdjust="spacingAndGlyphs">GAS SPRING ARM</text>
<text x="893.8" y="548.8" textLength="154.6" lengthAdjust="spacingAndGlyphs">GAS SPRING ARM</text>
<text x="620.2" y="586.7" textLength="97.9" lengthAdjust="spacingAndGlyphs">WIRE CLIPS</text>
<text x="276.8" y="706.8" textLength="112.2" lengthAdjust="spacingAndGlyphs">SWIVEL ARM</text>
<text x="783.8" y="706.5" textLength="112.2" lengthAdjust="spacingAndGlyphs">SWIVEL ARM</text>
<text x="395.8" y="813" textLength="80.6" lengthAdjust="spacingAndGlyphs">SPLITTER</text>
<text x="682.2" y="870.3" textLength="99" lengthAdjust="spacingAndGlyphs">WIRE CLIPS</text>
<text x="358.4" y="932.8" textLength="156.4" lengthAdjust="spacingAndGlyphs">27.6” LONG POLE</text>
<text x="358.4" y="954.3" textLength="122" lengthAdjust="spacingAndGlyphs">COMBO BASE</text>
<text x="873.0" y="882.5" textLength="296" lengthAdjust="spacingAndGlyphs">GROMMET OR CLAMP OPTIONS</text>
</g>
</svg>

</body>
</html>
